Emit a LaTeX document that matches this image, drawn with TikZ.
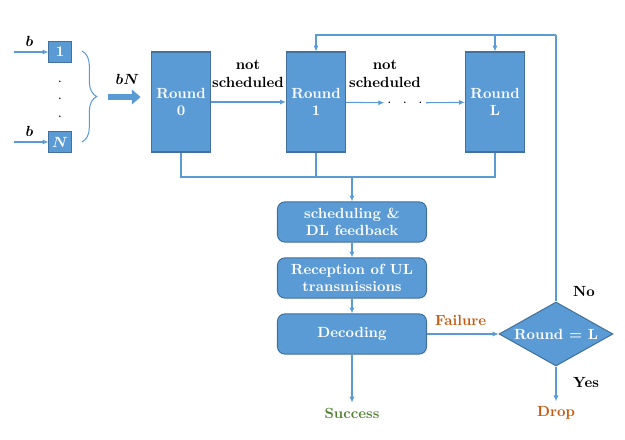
\documentclass[tikz,border=0pt]{standalone}
\usepackage{bm}
\usetikzlibrary{arrows.meta,shapes.geometric,decorations.pathreplacing}
\definecolor{boxblue}{HTML}{5B9BD5}
\definecolor{edgeblue}{HTML}{41719C}
\definecolor{linkblue}{HTML}{5B9BD5}
\definecolor{failorange}{HTML}{C55A11}
\definecolor{okgreen}{HTML}{548235}

\begin{document}
\begin{tikzpicture}[x=0.0239cm,y=-0.0239cm,
        font=\bfseries,
        inbox/.style={draw=edgeblue,line width=0.7pt,fill=boxblue,text=white,
          minimum width=0.53cm,minimum height=0.48cm,inner sep=0pt},
        roundbox/.style={draw=edgeblue,line width=0.7pt,fill=boxblue,text=white,
          minimum width=1.29cm,minimum height=2.39cm,align=center},
        stage/.style={draw=edgeblue,line width=0.7pt,rounded corners=5pt,fill=boxblue,
          text=white,minimum width=3.56cm,minimum height=0.96cm,align=center},
        cond/.style={diamond,draw=edgeblue,line width=0.7pt,fill=boxblue,text=white,
          minimum width=2.72cm,minimum height=1.53cm,aspect=1.78,inner sep=0pt},
        link/.style={draw=linkblue,line width=0.7pt},
        arr/.style={link,-{Latex[length=4pt,width=3.5pt]}},
        fatarr/.style={draw=boxblue,line width=4pt,-{Triangle[length=6pt,width=10pt]}}
      ]
        \useasboundingbox (0,0) rectangle (625,440);

        \node[inbox] (in1) at (60,52) {1};
        \node[inbox] (inN) at (60,142) {$\bm{N}$};
        \coordinate (s1) at (14,52);
        \coordinate (sN) at (14,142);
        \draw[arr] (s1) -- (in1) node[pos=0.45,above,black] {$\bm{b}$};
        \draw[arr] (sN) -- (inN) node[pos=0.45,above,black] {$\bm{b}$};
        \foreach \y in {82,99,117}
          \node[inner sep=0pt] (dot\y) at (60,\y) {$\cdot$};

        \draw[link,decorate,decoration={brace,amplitude=10pt}] (82,51) -- (82,142);
        \coordinate (bn) at (108,97);

        \node[roundbox] (r0) at (181,102) {Round\\0};
        \node[roundbox] (r1) at (316,102) {Round\\1};
        \node[inner sep=2pt] (rdots) at (405,103) {$\cdot\;\;\cdot\;\;\cdot$};
        \node[roundbox] (rL) at (495,102) {Round\\L};
        \node[align=center] (ns1) at (248,74) {not\\scheduled};
        \node[align=center] (ns2) at (385,74) {not\\scheduled};

        \draw[fatarr,shorten >=7pt] (bn) -- (bn -| r0.west) node[pos=0.45,above=3pt,black] {$\bm{bN}$};
        \draw[arr] (r0) -- (r1);
        \draw[arr] (r1) -- (rdots);
        \draw[arr] (rdots) -- (rL);

        \coordinate (merge) at (352,177);
        \draw[link] (r0.south) |- (merge) -| (rL.south);
        \draw[link] (r1.south) -- (r1.south |- merge);

        \node[stage] (sched) at (352,222) {scheduling \&\\DL feedback};
        \node[stage] (recep) at (352,278) {Reception of UL\\transmissions};
        \node[stage] (dec) at (352,334) {Decoding};
        \node[cond] (check) at (556,334) {Round = L};
        \node[text=okgreen] (succ) at (352,413) {Success};
        \node[text=failorange] (drop) at (556,413) {Drop};

        \draw[arr] (merge) -- (sched);
        \draw[arr] (sched) -- (recep);
        \draw[arr] (recep) -- (dec);
        \draw[arr] (dec) -- (succ);
        \draw[arr] (dec) -- (check) node[pos=0.47,above=2pt,text=failorange] {Failure};
        \draw[arr] (check) -- (drop) node[pos=0.45,right=8pt,black] {Yes};

        \coordinate (fb) at (check.north |- 0,35);
        \draw[link] (check.north) -- (fb) node[pos=0,anchor=west,yshift=7pt,xshift=8pt,black] {No};
        \draw[arr] (fb) -| (r1.north);
        \draw[arr] (rL.north |- fb) -- (rL.north);
      \end{tikzpicture}
\end{document}
